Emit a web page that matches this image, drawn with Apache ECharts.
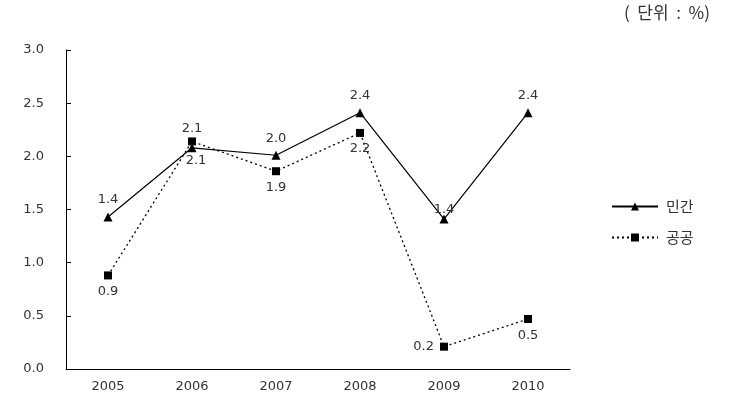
<!DOCTYPE html>
<html><head><meta charset="utf-8">
<script src="https://cdn.jsdelivr.net/npm/echarts@6/dist/echarts.min.js"></script>
<style>html,body{margin:0;padding:0;background:#fff}#c{width:731px;height:413px}</style>
</head><body><div id="c"></div>
<script>
const categories = ['2005','2006','2007','2008','2009','2010'];
const privateValues = [1.43, 2.08, 2.01, 2.41, 1.41, 2.41];
const privateLabels = ['1.4','2.1','2.0','2.4','1.4','2.4'];
const publicValues = [0.88, 2.14, 1.86, 2.22, 0.21, 0.47];
const publicLabels = ['0.9','2.1','1.9','2.2','0.2','0.5'];
const seriesNames = ['민간','공공'];
const unitText = '(  단위  :  %)';

const FONT = '"DejaVu Sans", "Noto Sans CJK KR", sans-serif';
const KFONT = '"Noto Sans CJK KR", sans-serif';
const privPos = [
  {position:'top', distance:6},
  {position:'bottom', distance:2, offset:[4,0]},
  {position:'top', distance:6},
  {position:'top', distance:6},
  {position:'top', distance:-2},
  {position:'top', distance:6}
];
const pubPos = [
  {position:'bottom', distance:6},
  {position:'top', distance:2},
  {position:'bottom', distance:6},
  {position:'bottom', distance:5},
  {position:'left', distance:6},
  {position:'bottom', distance:6}
];
function mk(vals, labels, pos){
  return vals.map((v,i)=>({value:v, label:Object.assign({show:true, formatter:labels[i]}, pos[i])}));
}
const chart = echarts.init(document.getElementById('c'));
chart.setOption({
  animation:false,
  backgroundColor:'#fff',
  textStyle:{fontFamily:FONT},
  grid:{left:66, right:161, top:50, bottom:44},
  legend:{
    orient:'vertical', left:606, top:194, itemGap:16, itemWidth:46, itemHeight:10, itemGap2:0,
    textStyle:{fontSize:15, color:'#333', fontFamily:KFONT, padding:[0,0,0,3]},
    data:seriesNames
  },
  graphic:[{type:'text', left:624, top:4, style:{text:unitText, font:'17px "Noto Sans CJK KR", sans-serif', fill:'#333'}}],
  xAxis:{
    type:'category', data:categories, boundaryGap:true,
    axisLine:{lineStyle:{color:'#000', width:1}},
    axisTick:{inside:true, length:5, lineStyle:{color:'#000'}},
    axisLabel:{color:'#333', fontSize:13, margin:11, fontFamily:FONT}
  },
  yAxis:{
    type:'value', min:0, max:3, interval:0.5,
    axisLine:{show:true, lineStyle:{color:'#000', width:1}},
    axisTick:{show:true, inside:true, length:5, lineStyle:{color:'#000'}},
    splitLine:{show:false},
    axisLabel:{color:'#333', fontSize:13, margin:22, fontFamily:FONT, formatter:v=>v.toFixed(1)}
  },
  series:[
    {name:seriesNames[0], type:'line', data:mk(privateValues, privateLabels, privPos),
     symbol:'triangle', symbolSize:9, itemStyle:{color:'#000'},
     lineStyle:{color:'#000', width:1.2, type:'solid'},
     label:{color:'#333', fontSize:13, fontFamily:FONT}, z:3},
    {name:seriesNames[1], type:'line', data:mk(publicValues, publicLabels, pubPos),
     symbol:'rect', symbolSize:8, itemStyle:{color:'#000'},
     lineStyle:{color:'#000', width:1.3, type:[2,3]},
     label:{color:'#333', fontSize:13, fontFamily:FONT}, z:2}
  ]
});
</script></body></html>
